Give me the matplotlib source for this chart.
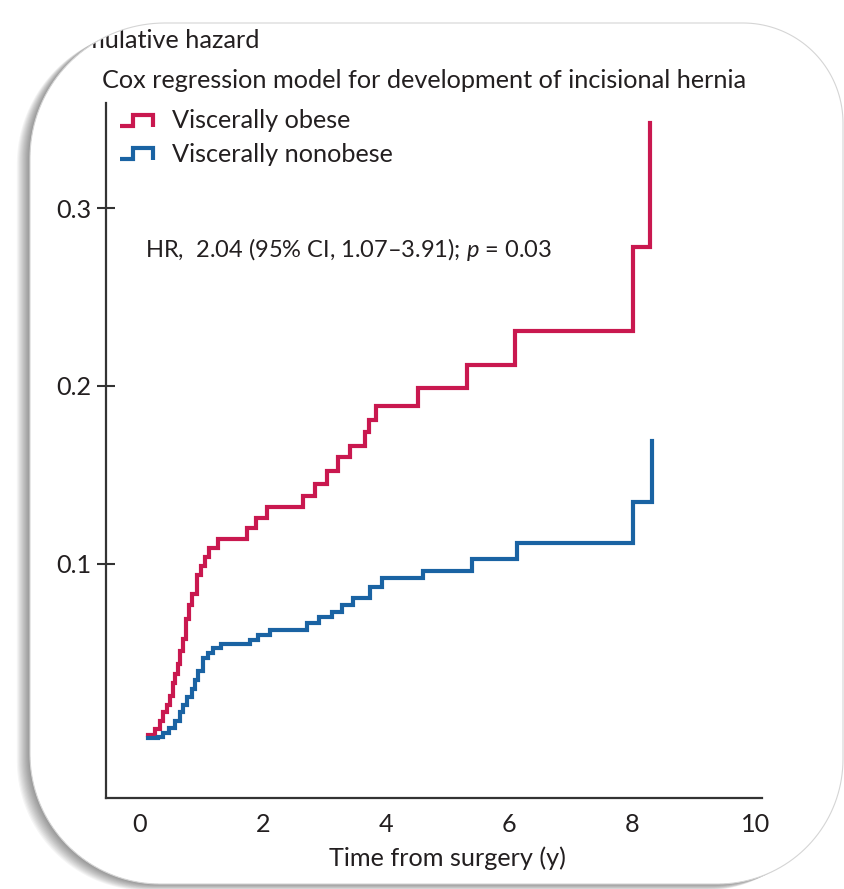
import matplotlib
matplotlib.use("Agg")
import numpy as np
import matplotlib.pyplot as plt
import matplotlib.transforms as mtransforms
from matplotlib.path import Path
from matplotlib.patches import Polygon, PathPatch

# Cumulative hazard steps (time in years, hazard after the step)
t_obese = [0.13, 0.24, 0.33, 0.37, 0.44, 0.49, 0.54, 0.57, 0.62, 0.65, 0.70, 0.75,
           0.80, 0.85, 0.93, 0.99, 1.06, 1.12, 1.27, 1.74, 1.89, 2.07, 2.65, 2.85,
           3.04, 3.22, 3.41, 3.66, 3.72, 3.84, 4.52, 5.32, 6.10, 8.02, 8.29]
h_obese = [0.004, 0.007, 0.012, 0.017, 0.021, 0.026, 0.033, 0.038, 0.044, 0.051, 0.058, 0.069,
           0.077, 0.083, 0.094, 0.099, 0.104, 0.109, 0.114, 0.120, 0.126, 0.132, 0.138, 0.145,
           0.152, 0.160, 0.166, 0.174, 0.181, 0.189, 0.199, 0.212, 0.231, 0.278, 0.348]

t_nonobese = [0.13, 0.29, 0.37, 0.47, 0.57, 0.65, 0.70, 0.76, 0.85, 0.89, 0.94, 1.02,
              1.11, 1.19, 1.32, 1.79, 1.92, 2.11, 2.72, 2.91, 3.12, 3.28, 3.46, 3.74,
              3.93, 4.60, 5.40, 6.13, 8.02, 8.33]
h_nonobese = [0.002, 0.003, 0.005, 0.008, 0.012, 0.017, 0.021, 0.025, 0.030, 0.035, 0.040, 0.047,
              0.050, 0.053, 0.055, 0.057, 0.060, 0.063, 0.067, 0.070, 0.073, 0.077, 0.081, 0.087,
              0.092, 0.096, 0.103, 0.112, 0.135, 0.169]

x_ticks = [0, 2, 4, 6, 8, 10]
y_ticks = [0.1, 0.2, 0.3]
y_ticklabels = ["0.1", "0.2", "0.3"]
series_names = ["Viscerally obese", "Viscerally nonobese"]

RED = "#C9184F"
BLUE = "#1A63A3"
TXT = "#231F20"

plt.rcParams["font.family"] = ["Lato", "DejaVu Sans"]
plt.rcParams["mathtext.fontset"] = "custom"
plt.rcParams["mathtext.it"] = "Lato:italic"
plt.rcParams["mathtext.rm"] = "Lato"
FS = 18.2

W, H = 845, 889
fig = plt.figure(figsize=(W / 100, H / 100), dpi=100)
fig.patch.set_facecolor("white")


def rounded_box(x0, y0, x1, y1, r_tl, r_tr, r_br, r_bl, n=40):
    # pixel coords (y down)
    pts = []
    corners = [(x0 + r_tl, y0 + r_tl, r_tl, 180, 270),
               (x1 - r_tr, y0 + r_tr, r_tr, 270, 360),
               (x1 - r_br, y1 - r_br, r_br, 0, 90),
               (x0 + r_bl, y1 - r_bl, r_bl, 90, 180)]
    for cx, cy, rr, a0, a1 in corners:
        a = np.radians(np.linspace(a0, a1, n))
        pts += list(zip(cx + rr * np.cos(a), cy + rr * np.sin(a)))
    return np.array(pts)


# background axes in pixel units: rounded card with soft shadow
bg = fig.add_axes([0, 0, 1, 1])
bg.set_xlim(0, W)
bg.set_ylim(H, 0)
bg.axis("off")

card_xy = rounded_box(30, 23, 843, 884, 135, 100, 125, 130)
card = Polygon(card_xy, closed=True, facecolor="white", edgecolor="none", zorder=1)
bg.add_patch(card)

ylab = bg.text(260, 40, "Cumulative hazard", fontsize=FS, color=TXT,
               ha="right", va="center", zorder=2)

# white mask outside the card (hides the cut part of the label)
outer = np.array([[0, 0], [0, H], [W, H], [W, 0], [0, 0]])
inner = np.vstack([card_xy, card_xy[:1]])
mask_path = Path.make_compound_path(Path(outer, closed=True), Path(inner, closed=True))
mask = PathPatch(mask_path, facecolor="white", edgecolor="none", zorder=3)
bg.add_patch(mask)

for i in range(12, 0, -1):
    sh = Polygon(card_xy + np.array([-i * 1.1, i * 0.55]), closed=True,
                 facecolor="black", edgecolor="none", alpha=0.04, zorder=4)
    bg.add_patch(sh)
    sh.set_clip_path(mask)

edge = Polygon(card_xy, closed=True, facecolor="none", edgecolor="#d5d5d5",
               linewidth=0.8, zorder=5)
bg.add_patch(edge)

bg.text(102, 81, "Cox regression model for development of incisional hernia",
        fontsize=FS, color=TXT, ha="left", va="center", zorder=6)

# legend step symbols
for yy, col, name in [(126, RED, series_names[0]), (159, BLUE, series_names[1])]:
    bg.plot([120, 133, 133, 153, 153], [yy, yy, yy - 11, yy - 11, yy + 1],
            color=col, lw=3, solid_joinstyle="miter", solid_capstyle="butt", zorder=6)
    bg.text(172, yy - 5, name, fontsize=FS, color=TXT, ha="left", va="center", zorder=6)

# main plot
ax = fig.add_axes([106 / W, (H - 798) / H, (762 - 106) / W, (798 - 103) / H])
ax.patch.set_alpha(0)

ax.plot(t_obese, h_obese, drawstyle="steps-post", color=RED, lw=3,
        solid_joinstyle="miter")
ax.plot(t_nonobese, h_nonobese, drawstyle="steps-post", color=BLUE, lw=3,
        solid_joinstyle="miter")

ax.set_xlim(-0.553, 10.11)
ax.set_ylim(-0.0315, 0.359)

for s in ["top", "right"]:
    ax.spines[s].set_visible(False)
for s in ["left", "bottom"]:
    ax.spines[s].set_color("#333333")
    ax.spines[s].set_linewidth(1.6)

ax.set_xticks(x_ticks)
ax.set_xticklabels([str(v) for v in x_ticks])
ax.set_yticks(y_ticks)
ax.set_yticklabels(y_ticklabels)
ax.tick_params(axis="x", length=0, pad=11, labelsize=FS, labelcolor=TXT)
ax.tick_params(axis="y", direction="inout", length=13, width=1.5, color="#333333",
               pad=4, labelsize=FS, labelcolor=TXT)

trans = mtransforms.blended_transform_factory(ax.transData, ax.transAxes)
ax.text(5, -0.086, "Time from surgery (y)", transform=trans, fontsize=FS,
        color=TXT, ha="center", va="center")

ax.text(0.08, 0.2765, "HR,  2.04 (95% CI, 1.07–3.91); $p$ = 0.03", fontsize=17,
        color=TXT, ha="left", va="center")

fig.savefig("out.png", dpi=100)
